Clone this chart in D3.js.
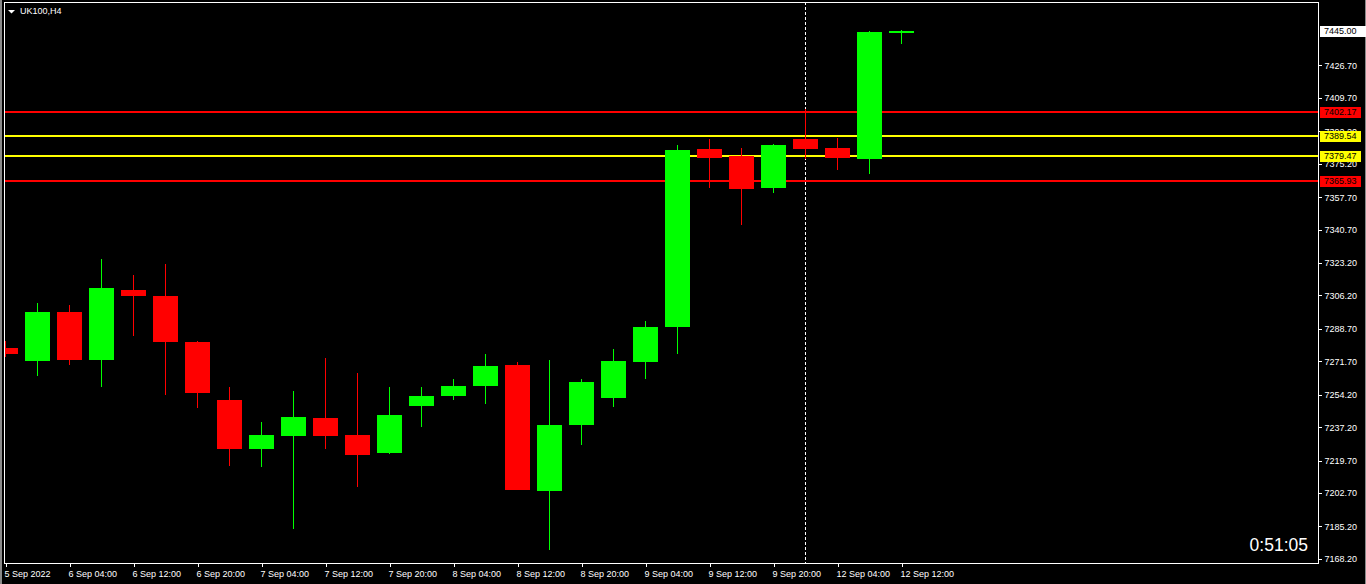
<!DOCTYPE html>
<html>
<head>
<meta charset="utf-8">
<script src="https://cdn.jsdelivr.net/npm/d3@7"></script>
<style>
  html, body { margin: 0; padding: 0; background: #000; overflow: hidden; }
  #chart { width: 1366px; height: 584px; }
  text { font-family: 'Liberation Sans', Arial, sans-serif; }
</style>
</head>
<body>
<div id="chart"></div>
<script>
const symbol = 'UK100,H4';
const timer = '0:51:05';

const candleTimes = [
  '5 Sep 2022', '6 Sep 00:00', '6 Sep 04:00', '6 Sep 08:00', '6 Sep 12:00', '6 Sep 16:00',
  '6 Sep 20:00', '7 Sep 00:00', '7 Sep 04:00', '7 Sep 08:00', '7 Sep 12:00', '7 Sep 16:00',
  '7 Sep 20:00', '8 Sep 00:00', '8 Sep 04:00', '8 Sep 08:00', '8 Sep 12:00', '8 Sep 16:00',
  '8 Sep 20:00', '9 Sep 00:00', '9 Sep 04:00', '9 Sep 08:00', '9 Sep 12:00', '9 Sep 16:00',
  '9 Sep 20:00', '12 Sep 00:00', '12 Sep 04:00', '12 Sep 08:00', '12 Sep 12:00'
];

const opens = [
  7278.9, 7272.1, 7297.8, 7272.6, 7309.3, 7305.7, 7281.6, 7251.7, 7226.0, 7232.8,
  7242.2, 7233.3, 7223.9, 7248.5, 7253.8, 7259.0, 7270.0, 7203.9, 7238.6, 7252.7,
  7271.1, 7289.9, 7382.8, 7379.1, 7362.3, 7388.0, 7383.3, 7377.5, 7443.6
];
const highs = [
  7282.1, 7302.0, 7301.0, 7325.1, 7316.7, 7322.5, 7282.6, 7258.5, 7240.1, 7255.9,
  7273.2, 7265.8, 7258.5, 7258.5, 7262.2, 7275.8, 7271.6, 7272.6, 7262.7, 7277.9,
  7292.6, 7384.9, 7388.0, 7383.3, 7385.4, 7403.7, 7388.5, 7444.6, 7445.3
];
const lows = [
  7274.2, 7264.2, 7270.0, 7258.0, 7285.2, 7254.3, 7247.5, 7217.1, 7216.5, 7184.0,
  7226.0, 7206.0, 7223.4, 7237.5, 7251.7, 7249.6, 7204.5, 7173.0, 7228.1, 7248.0,
  7262.7, 7275.8, 7362.3, 7342.9, 7359.7, 7377.5, 7371.8, 7369.7, 7437.8
];
const closes = [
  7275.3, 7297.3, 7272.6, 7309.9, 7305.7, 7281.6, 7255.3, 7226.0, 7233.3, 7242.8,
  7232.8, 7222.8, 7243.8, 7253.8, 7259.0, 7269.5, 7204.5, 7238.6, 7261.1, 7272.1,
  7289.9, 7382.2, 7378.0, 7361.8, 7384.9, 7382.8, 7378.0, 7444.1, 7445.0
];

const priceTicks = [
  7426.70, 7409.70, 7392.20, 7375.20, 7357.70, 7340.70, 7323.20, 7306.20,
  7288.70, 7271.70, 7254.20, 7237.20, 7219.70, 7202.70, 7185.20, 7168.20
];

const levelPrices = [7402.17, 7389.54, 7379.47, 7365.93];
const bidPrice = 7445.00;
const separatorTime = '12 Sep 00:00';

const chart = {
  width: 1366,
  height: 584,
  left: 4,
  top: 2,
  right: 1318,
  bottom: 563,
  bull: '#00ff00',
  bear: '#ff0000',
  levelColors: ['#ff0000', '#ffff00', '#ffff00', '#ff0000'],

  init() {
    this.svg = d3.select('#chart').append('svg')
      .attr('width', this.width)
      .attr('height', this.height)
      .style('display', 'block');

    this.candles = candleTimes.map((t, i) => ({
      i, t, open: opens[i], high: highs[i], low: lows[i], close: closes[i]
    }));

    // 32px per bar, bar 0 centred on x=5
    this.x = d3.scaleLinear().domain([0, 41]).range([5, 1317]);
    this.y = d3.scaleLinear().domain([7165.8, 7459.93]).range([563.5, 2]);

    this.drawEdges();
    this.drawSeparator();
    this.drawLevels();
    this.drawCandles();
    this.drawFrame();
    this.drawAxes();
    this.drawPriceLabels();
    this.drawTitle();
  },

  drawEdges() {
    this.svg.append('rect').attr('x', 0).attr('y', 0).attr('width', 2).attr('height', this.height)
      .attr('fill', '#8a8a8a');
    this.svg.append('rect').attr('x', 1365).attr('y', 0).attr('width', 1).attr('height', this.height)
      .attr('fill', '#8a8a8a');
  },

  drawCandles() {
    this.svg.append('clipPath').attr('id', 'plot')
      .append('rect')
      .attr('x', this.left + 1).attr('y', this.top + 1)
      .attr('width', this.right - this.left - 1).attr('height', this.bottom - this.top - 1);

    const g = this.svg.append('g').attr('clip-path', 'url(#plot)')
      .attr('shape-rendering', 'crispEdges');
    const color = (d) => d.close >= d.open ? this.bull : this.bear;

    g.selectAll('line.wick').data(this.candles).join('line')
      .attr('class', 'wick')
      .attr('x1', (d) => Math.round(this.x(d.i)) + 0.5)
      .attr('x2', (d) => Math.round(this.x(d.i)) + 0.5)
      .attr('y1', (d) => Math.round(this.y(d.high)))
      .attr('y2', (d) => Math.round(this.y(d.low)))
      .attr('stroke', color)
      .attr('stroke-width', 1);

    g.selectAll('rect.body').data(this.candles).join('rect')
      .attr('class', 'body')
      .attr('x', (d) => Math.round(this.x(d.i)) - 12)
      .attr('width', 25)
      .attr('y', (d) => Math.round(this.y(Math.max(d.open, d.close))))
      .attr('height', (d) => Math.max(1, Math.round(this.y(Math.min(d.open, d.close))) - Math.round(this.y(Math.max(d.open, d.close)))))
      .attr('fill', color);
  },

  drawSeparator() {
    const xs = Math.round(this.x(candleTimes.indexOf(separatorTime))) + 0.5;
    this.svg.append('line')
      .attr('x1', xs).attr('x2', xs)
      .attr('y1', this.top).attr('y2', this.bottom)
      .attr('stroke', '#fff')
      .attr('stroke-dasharray', '3,2')
      .attr('shape-rendering', 'crispEdges');
  },

  drawLevels() {
    this.svg.append('g').selectAll('line').data(levelPrices).join('line')
      .attr('x1', this.left).attr('x2', this.right)
      .attr('y1', (d) => Math.round(this.y(d)))
      .attr('y2', (d) => Math.round(this.y(d)))
      .attr('stroke', (d, i) => this.levelColors[i])
      .attr('stroke-width', 2)
      .attr('shape-rendering', 'crispEdges');
  },

  drawFrame() {
    this.svg.append('rect')
      .attr('x', this.left + 0.5).attr('y', this.top + 0.5)
      .attr('width', this.right - this.left).attr('height', this.bottom - this.top)
      .attr('fill', 'none')
      .attr('stroke', '#fff')
      .attr('shape-rendering', 'crispEdges');
  },

  drawAxes() {
    const yAxis = d3.axisRight(this.y)
      .tickValues(priceTicks)
      .tickFormat(d3.format('.2f'))
      .tickSize(3)
      .tickPadding(3);

    const gy = this.svg.append('g')
      .attr('transform', `translate(${this.right + 0.5},0)`)
      .call(yAxis);
    this.styleAxis(gy);

    const xAxis = d3.axisBottom(this.x)
      .tickValues(d3.range(0, candleTimes.length, 2))
      .tickFormat((i) => candleTimes[i])
      .tickSize(3)
      .tickPadding(4);

    const gx = this.svg.append('g')
      .attr('transform', `translate(0,${this.bottom + 0.5})`)
      .call(xAxis);
    this.styleAxis(gx);
    gx.selectAll('.tick line').attr('transform', 'translate(0.5,0)');
    gx.selectAll('.tick text').attr('text-anchor', 'start').attr('x', -1);
  },

  styleAxis(g) {
    g.select('.domain').remove();
    g.selectAll('.tick line').attr('stroke', '#fff').attr('shape-rendering', 'crispEdges');
    g.selectAll('.tick text')
      .attr('fill', '#fff')
      .attr('font-size', 9)
      .attr('font-family', "'Liberation Sans', Arial, sans-serif");
  },

  drawPriceLabels() {
    const labels = levelPrices.map((p, i) => ({ p, color: this.levelColors[i], w: 41 }));
    labels.push({ p: bidPrice, color: '#fff', w: 46 });

    const g = this.svg.append('g').selectAll('g').data(labels).join('g')
      .attr('transform', (d) => `translate(1320,${Math.round(this.y(d.p))})`);

    g.append('rect')
      .attr('x', 0).attr('y', -5)
      .attr('width', (d) => d.w).attr('height', 11)
      .attr('fill', (d) => d.color)
      .attr('shape-rendering', 'crispEdges');

    g.append('text')
      .attr('x', 4).attr('y', 0.5)
      .attr('dy', '0.32em')
      .attr('font-size', 9)
      .attr('fill', '#000')
      .text((d) => d3.format('.2f')(d.p));
  },

  drawTitle() {
    this.svg.append('path')
      .attr('d', 'M8,10L15,10L11.5,13.5Z')
      .attr('fill', '#fff');
    this.svg.append('text')
      .attr('x', 20).attr('y', 13.5)
      .attr('font-size', 9)
      .attr('fill', '#fff')
      .text(symbol);

    this.svg.append('text')
      .attr('x', 1308).attr('y', 551)
      .attr('text-anchor', 'end')
      .attr('font-size', 17.5)
      .attr('fill', '#fff')
      .text(timer);
  }
};

chart.init();
</script>
</body>
</html>
